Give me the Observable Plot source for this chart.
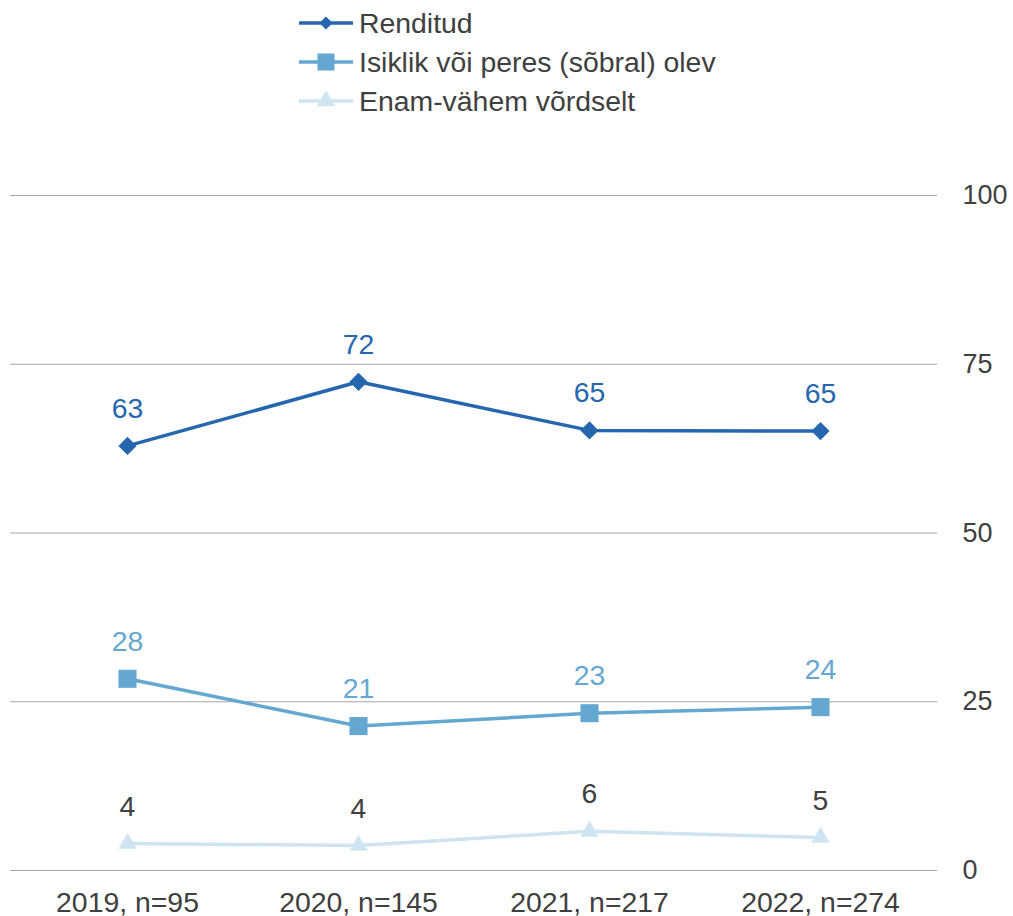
<!DOCTYPE html>
<html>
<head>
<meta charset="utf-8">
<script src="https://cdn.jsdelivr.net/npm/d3@7"></script>
<script src="https://cdn.jsdelivr.net/npm/@observablehq/plot@0.6"></script>
<style>
  html, body { margin: 0; padding: 0; background: #fff; }
  #wrap { width: 1013px; height: 916px; position: relative; font-family: "Liberation Sans", Arial, sans-serif; }
  #legend { position: relative; width: 1013px; height: 126px; }
  .item { position: absolute; left: 298px; height: 36px; display: flex; align-items: center; font-size: 28.4px; color: #404040; white-space: nowrap; }
  .item svg { margin-right: 5px; }
  #chart svg { display: block; }
</style>
</head>
<body>
<div id="wrap">
  <div id="legend"></div>
  <div id="chart"></div>
</div>
<script>
// ---- data ----
const years = ["2019, n=95", "2020, n=145", "2021, n=217", "2022, n=274"];
const seriesNames = ["Renditud", "Isiklik või peres (sõbral) olev", "Enam-vähem võrdselt"];
const renditud = [62.9, 72.4, 65.2, 65.1];
const isiklik = [28.4, 21.4, 23.3, 24.2];
const enam = [4.0, 3.7, 5.8, 4.9];
const yTicks = [0, 25, 50, 75, 100];

// ---- styles ----
const colors = ["#2566ae", "#64a8d1", "#cfe4f1"];
const labelColors = ["#2566ae", "#64a8d1", "#404040"];
const symbols = ["diamond2", "square", "triangle"];
const radii = [8.2, 10.2, 6.8];
const legendSymbolSize = [110, 290, 150];

const seriesValues = [renditud, isiklik, enam];
const rows = [];
seriesValues.forEach((vals, s) => {
  vals.forEach((v, i) => rows.push({series: seriesNames[s], s, year: years[i], value: v}));
});

// ---- legend ----
const legend = document.getElementById("legend");
const rowCenters = [23, 62, 101];
seriesNames.forEach((name, s) => {
  const div = document.createElement("div");
  div.className = "item";
  div.style.top = (rowCenters[s] - 18) + "px";
  const sym = d3.symbol().type([d3.symbolDiamond2, d3.symbolSquare, d3.symbolTriangle][s]).size(legendSymbolSize[s])();
  div.innerHTML = `<svg width="56" height="36"><line x1="1" x2="55" y1="18" y2="18" stroke="${colors[s]}" stroke-width="3.5"/><path d="${sym}" transform="translate(28,18)" fill="${colors[s]}"/></svg><span>${name}</span>`;
  legend.appendChild(div);
});

// ---- chart ----
const marks = [
  Plot.gridY(yTicks, {stroke: "#a6a6a6", strokeOpacity: 1, strokeWidth: 1}),
  Plot.axisY(yTicks, {anchor: "right", tickSize: 0, tickPadding: 25, textAnchor: "start", fontSize: 27, fill: "#404040", label: null}),
  Plot.axisX({tickSize: 0, tickPadding: 21, fontSize: 28.4, fill: "#404040", label: null})
];
seriesNames.forEach((name, s) => {
  const data = rows.filter(d => d.s === s);
  marks.push(Plot.line(data, {x: "year", y: "value", stroke: colors[s], strokeWidth: 3.5}));
  marks.push(Plot.dot(data, {x: "year", y: "value", symbol: () => symbols[s], r: radii[s], fill: colors[s], stroke: "none"}));
  marks.push(Plot.text(data, {x: "year", y: "value", text: d => String(Math.round(d.value)), dy: -37, fill: labelColors[s], fontSize: 28.4}));
});

const chart = Plot.plot({
  width: 1013,
  height: 790,
  marginLeft: 10,
  marginRight: 76,
  marginTop: 69,
  marginBottom: 46,
  x: {type: "point", domain: years, padding: 0.5},
  y: {domain: [0, 100]},
  symbol: {type: "identity"},
  style: {fontFamily: "'Liberation Sans', Arial, sans-serif", fontSize: "27px", color: "#404040", background: "#fff", overflow: "visible"},
  marks
});
document.getElementById("chart").appendChild(chart);
</script>
</body>
</html>
